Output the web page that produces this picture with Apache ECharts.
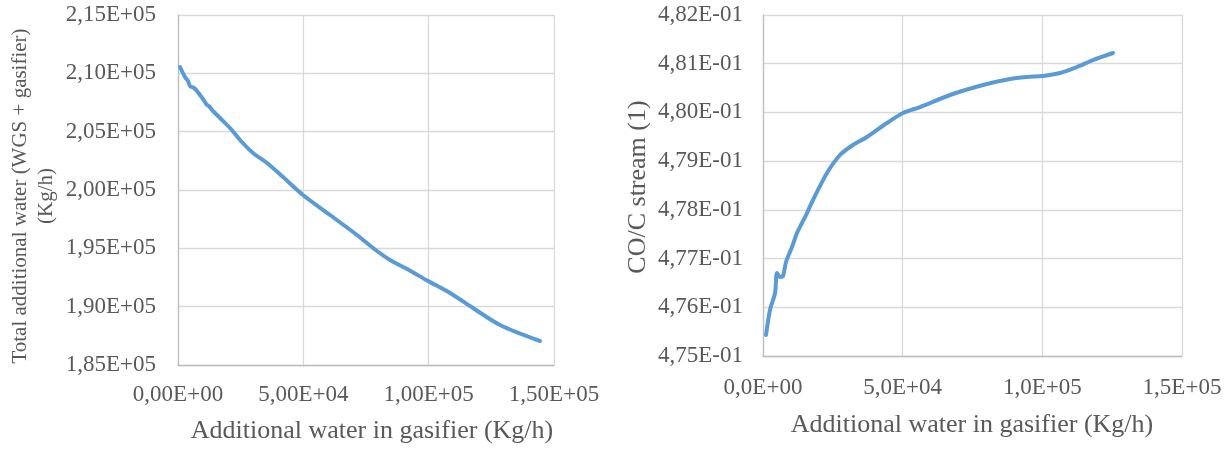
<!DOCTYPE html>
<html><head><meta charset="utf-8">
<script src="https://cdn.jsdelivr.net/npm/echarts@6/dist/echarts.min.js"></script>
<style>html,body{margin:0;padding:0;background:#fff}#c{width:1230px;height:451px}</style>
</head><body><div id="c"></div>
<script>
// Left chart: additional water in gasifier vs total additional water
var leftX = [800, 2790, 3990, 4790, 6380, 7580, 8780, 9970, 11570, 12370, 13560, 14760, 16760, 20750, 24730, 29920, 35500, 41890, 49870, 60640, 71410, 77790, 84570, 91350, 99730, 108510, 117680, 128450, 144410];
var leftY = [210543, 209686, 209343, 208914, 208743, 208486, 208143, 207800, 207286, 207200, 206857, 206600, 206171, 205314, 204286, 203171, 202314, 201114, 199571, 197857, 196143, 195029, 194000, 193229, 192200, 191171, 189886, 188429, 187057];
// Right chart: additional water in gasifier vs CO/C stream
var rightX = [1074, 2506, 4296, 5012, 6086, 7160, 8234, 10382, 12172, 13962, 15752, 17900, 22912, 27566, 32220, 37232, 44392, 50120, 56206, 66946, 78760, 88425, 94511, 100239, 106325, 112411, 118138, 125298];
var rightY = [0.475431, 0.475944, 0.476293, 0.476704, 0.476622, 0.476642, 0.476930, 0.477237, 0.477525, 0.477730, 0.477935, 0.478202, 0.478757, 0.479126, 0.479331, 0.479496, 0.479783, 0.479988, 0.480111, 0.480358, 0.480563, 0.480686, 0.480727, 0.480748, 0.480809, 0.480933, 0.481076, 0.481220];

var leftTitleX = 'Additional water in gasifier (Kg/h)';
var leftTitleY = 'Total additional water (WGS + gasifier)\n(Kg/h)';
var rightTitleX = 'Additional water in gasifier (Kg/h)';
var rightTitleY = 'CO/C stream (1)';

function sci(digits) {
  return function (v) {
    var s = Number(v).toExponential(digits); // e.g. 2.15e+5
    var parts = s.split('e');
    var mant = parts[0].replace('.', ',');
    var ex = parseInt(parts[1], 10);
    var sign = ex < 0 ? '-' : '+';
    var a = Math.abs(ex);
    return mant + 'E' + sign + (a < 10 ? '0' + a : '' + a);
  };
}
function zip(a, b) { return a.map(function (v, i) { return [v, b[i]]; }); }

var FONT = '"Liberation Serif", "Times New Roman", serif';
var TXT = '#595959';
var GRID = '#d9d9d9';

function xAx(idx, dig, margin) {
  return {
    type: 'value', gridIndex: idx, min: 0, max: 150000, interval: 50000,
    axisLine: { show: true, lineStyle: { color: '#bfbfbf', width: 1.3 } },
    axisTick: { show: false },
    splitLine: { show: true, lineStyle: { color: GRID, width: 1.3 } },
    axisLabel: { formatter: sci(dig), color: TXT, fontFamily: FONT, fontSize: 23, margin: margin }
  };
}

var option = {
  animation: false,
  backgroundColor: '#fff',
  grid: [
    { left: 178, top: 15, width: 376, height: 350 },
    { left: 763, top: 15, width: 419, height: 341 }
  ],
  xAxis: [xAx(0, 2, 18), xAx(1, 1, 20)],
  yAxis: [
    {
      type: 'value', gridIndex: 0, min: 185000, max: 215000, interval: 5000,
      axisLine: { show: true, lineStyle: { color: '#bfbfbf', width: 1.3 } },
      axisTick: { show: false },
      splitLine: { show: true, lineStyle: { color: GRID, width: 1.3 } },
      axisLabel: { formatter: sci(2), color: TXT, fontFamily: FONT, fontSize: 23, margin: 22 }
    },
    {
      type: 'value', gridIndex: 1, min: 0.475, max: 0.482, interval: 0.001,
      axisLine: { show: true, lineStyle: { color: '#bfbfbf', width: 1.3 } },
      axisTick: { show: false },
      splitLine: { show: true, lineStyle: { color: GRID, width: 1.3 } },
      axisLabel: { formatter: sci(2), color: TXT, fontFamily: FONT, fontSize: 23, margin: 20 }
    }
  ],
  series: [
    { type: 'line', xAxisIndex: 0, yAxisIndex: 0, data: zip(leftX, leftY), showSymbol: false, smooth: 0.3,
      lineStyle: { color: '#5b9bd5', width: 4, cap: 'round', join: 'round' } },
    { type: 'line', xAxisIndex: 1, yAxisIndex: 1, data: zip(rightX, rightY), showSymbol: false, smooth: 0.3,
      lineStyle: { color: '#5b9bd5', width: 4, cap: 'round', join: 'round' } }
  ],
  graphic: [
    { type: 'text', x: 372, y: 431, style: { text: leftTitleX, fill: TXT, font: '26px ' + FONT, align: 'center', verticalAlign: 'middle' } },
    { type: 'text', x: 972, y: 425, style: { text: rightTitleX, fill: TXT, font: '26px ' + FONT, align: 'center', verticalAlign: 'middle' } },
    { type: 'text', x: 33, y: 196, rotation: Math.PI / 2, style: { text: leftTitleY, fill: TXT, font: '21px ' + FONT, align: 'center', verticalAlign: 'middle', lineHeight: 26 } },
    { type: 'text', x: 638, y: 187, rotation: Math.PI / 2, style: { text: rightTitleY, fill: TXT, font: '26px ' + FONT, align: 'center', verticalAlign: 'middle' } }
  ]
};
var chart = echarts.init(document.getElementById('c'), null, { renderer: 'canvas' });
chart.setOption(option);
</script></body></html>
